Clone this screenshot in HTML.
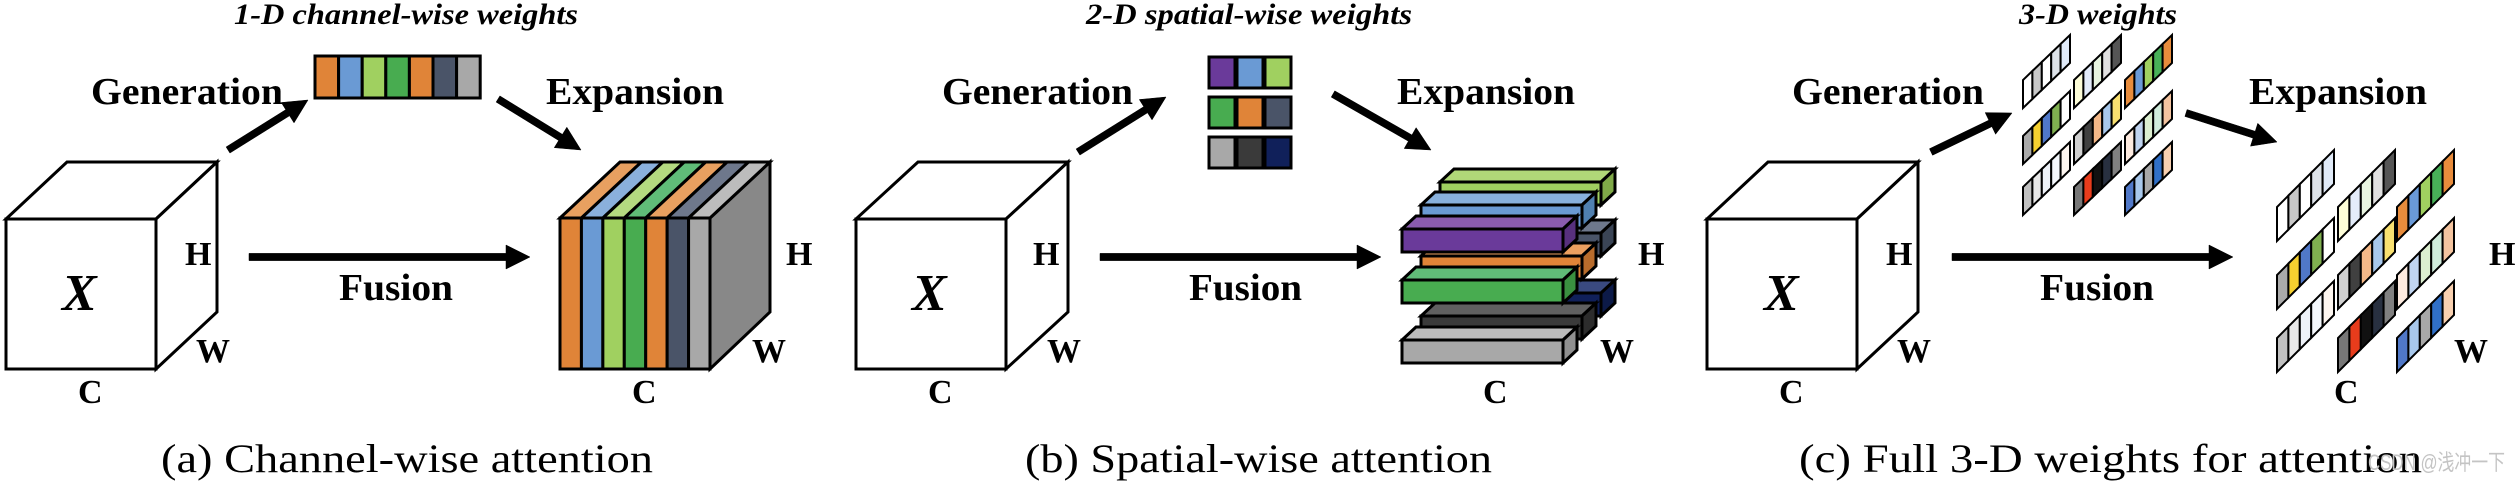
<!DOCTYPE html>
<html><head><meta charset="utf-8">
<style>
html,body{margin:0;padding:0;background:#fff;}
svg{display:block;}
text{font-family:"Liberation Serif",serif;fill:#000;}
.b{font-weight:bold;font-size:38px;}
.l{font-weight:bold;font-size:34px;}
.t{font-weight:bold;font-style:italic;font-size:30px;}
.cap{font-size:40px;}
</style></head>
<body>
<svg id="s" width="2518" height="484" viewBox="0 0 2518 484" xmlns="http://www.w3.org/2000/svg">
<g id="g"></g>
<!-- titles -->
<text class="t" x="234" y="24" textLength="344" lengthAdjust="spacingAndGlyphs">1-D channel-wise weights</text>
<text class="t" x="1086" y="24" textLength="326" lengthAdjust="spacingAndGlyphs">2-D spatial-wise weights</text>
<text class="t" x="2019" y="24" textLength="158" lengthAdjust="spacingAndGlyphs">3-D weights</text>
<!-- Generation / Expansion -->
<text class="b" x="91" y="104" textLength="192" lengthAdjust="spacingAndGlyphs">Generation</text>
<text class="b" x="546" y="104" textLength="178" lengthAdjust="spacingAndGlyphs">Expansion</text>
<text class="b" x="942" y="104" textLength="191" lengthAdjust="spacingAndGlyphs">Generation</text>
<text class="b" x="1397" y="104" textLength="178" lengthAdjust="spacingAndGlyphs">Expansion</text>
<text class="b" x="1792" y="104" textLength="192" lengthAdjust="spacingAndGlyphs">Generation</text>
<text class="b" x="2249" y="104" textLength="178" lengthAdjust="spacingAndGlyphs">Expansion</text>
<!-- Fusion -->
<text class="b" x="339" y="300" textLength="114" lengthAdjust="spacingAndGlyphs">Fusion</text>
<text class="b" x="1189" y="300" textLength="113" lengthAdjust="spacingAndGlyphs">Fusion</text>
<text class="b" x="2040" y="300" textLength="114" lengthAdjust="spacingAndGlyphs">Fusion</text>
<!-- X -->
<text x="62" y="310" style="font-weight:bold;font-style:italic;font-size:52px">X</text>
<text x="912" y="310" style="font-weight:bold;font-style:italic;font-size:52px">X</text>
<text x="1764" y="310" style="font-weight:bold;font-style:italic;font-size:52px">X</text>
<!-- H W C -->
<text class="l" x="185" y="265">H</text><text class="l" x="196" y="362">W</text><text class="l" x="78" y="403">C</text>
<text class="l" x="786" y="265">H</text><text class="l" x="752" y="362">W</text><text class="l" x="632" y="403">C</text>
<text class="l" x="1033" y="265">H</text><text class="l" x="1047" y="362">W</text><text class="l" x="928" y="403">C</text>
<text class="l" x="1638" y="265">H</text><text class="l" x="1600" y="362">W</text><text class="l" x="1483" y="403">C</text>
<text class="l" x="1886" y="265">H</text><text class="l" x="1897" y="362">W</text><text class="l" x="1779" y="403">C</text>
<text class="l" x="2489" y="265">H</text><text class="l" x="2454" y="362">W</text><text class="l" x="2334" y="403">C</text>
<!-- captions -->
<text class="cap" x="161" y="472" textLength="492" lengthAdjust="spacingAndGlyphs">(a) Channel-wise attention</text>
<text class="cap" x="1025" y="472" textLength="467" lengthAdjust="spacingAndGlyphs">(b) Spatial-wise attention</text>
<text class="cap" x="1799" y="472" textLength="623" lengthAdjust="spacingAndGlyphs">(c) Full 3-D weights for attention</text>
<text x="2368" y="470" style="font-family:'Liberation Sans','Noto Sans CJK SC',sans-serif;font-size:22px;fill:#c4c4c4" textLength="137" lengthAdjust="spacingAndGlyphs">CSDN @浅冲一下</text>
</svg>
<script>
var NS="http://www.w3.org/2000/svg",G=document.getElementById("g");
function el(t,a){var e=document.createElementNS(NS,t);for(var k in a)e.setAttribute(k,a[k]);G.appendChild(e);return e;}
function poly(pts,fill,sw){el("polygon",{points:pts.map(function(p){return p[0]+","+p[1]}).join(" "),fill:fill,stroke:"#000","stroke-width":sw||3,"stroke-linejoin":"miter"});}
function arrow(x1,y1,x2,y2){var dx=x2-x1,dy=y2-y1,L=Math.sqrt(dx*dx+dy*dy),ux=dx/L,uy=dy/L,nx=-uy,ny=ux,hl=24,hw=12,w=3.6;
var bx=x2-ux*hl,by=y2-uy*hl;
poly([[x1+nx*w,y1+ny*w],[bx+nx*w,by+ny*w],[bx+nx*hw,by+ny*hw],[x2,y2],[bx-nx*hw,by-ny*hw],[bx-nx*w,by-ny*w],[x1-nx*w,y1-ny*w]],"#000",0.5);}
function cube(x,y,w,h,dx,dy){poly([[x,y],[x+dx,y-dy],[x+w+dx,y-dy],[x+w,y]],"#fff");poly([[x+w,y],[x+w+dx,y-dy],[x+w+dx,y+h-dy],[x+w,y+h]],"#fff");poly([[x,y],[x+w,y],[x+w,y+h],[x,y+h]],"#fff");}
// input cubes
cube(6,219,150,150,61,57);cube(856,219,150,150,62,57);cube(1707,219,150,150,61,57);
// arrows
arrow(228,150,308,100);arrow(498,99,581,150);arrow(249,257,530,257);
arrow(1078,152,1166,97);arrow(1333,94,1431,150);arrow(1100,257,1381,257);
arrow(1931,152,2012,113);arrow(2186,113,2277,142);arrow(1952,257,2233,257);
// 1-D bar
var c1=["#e08438","#6a9ad4","#a0d060","#48ac50","#e08438","#4a5468","#a8a8a8"];
var t1=["#e8a060","#8ab0dc","#b4da80","#60bc78","#e8a060","#6e788c","#bcbcbc"];
for(var i=0;i<7;i++)poly([[315+i*23.6,56],[338.6+i*23.6,56],[338.6+i*23.6,98],[315+i*23.6,98]],c1[i]);
// channel cube
var X0=560,W=150/7;
poly([[710,218],[770,162],[770,312],[710,369]],"#888");
for(i=0;i<7;i++){var a=X0+i*W;poly([[a,218],[a+60,162],[a+W+60,162],[a+W,218]],t1[i]);}
for(i=0;i<7;i++){var a=X0+i*W;poly([[a,218],[a+W,218],[a+W,369],[a,369]],c1[i]);}
// 2-D grid
var g2=[["#6a3a9a","#6a9ad4","#a0d060"],["#48ac50","#e08438","#4a5468"],["#a8a8a8","#3a3a3a","#10205a"]];
var cx=[1209,1237,1265],ry=[57,97,137];
for(var r=0;r<3;r++)for(var c=0;c<3;c++)poly([[cx[c],ry[r]],[cx[c]+26,ry[r]],[cx[c]+26,ry[r]+31],[cx[c],ry[r]+31]],g2[r][c]);
// spatial boxes
function box(x,y,f,t,s){var w=161,h=23,dx=14,dy=13;poly([[x,y],[x+dx,y-dy],[x+w+dx,y-dy],[x+w,y]],t);poly([[x+w,y],[x+w+dx,y-dy],[x+w+dx,y+h-dy],[x+w,y+h]],s);poly([[x,y],[x+w,y],[x+w,y+h],[x,y+h]],f);}
var B=[
[[1440,182,"#a0d060","#b0d878","#80aa48"],[1440,233,"#4a5468","#6e788c","#3a4455"],[1440,293,"#10205a","#3a4a80","#0c1a48"]],
[[1421,205,"#6a9ad4","#88b0dc","#5080b0"],[1421,256,"#e08438","#eca060","#b86c2c"],[1421,316,"#3a3a3a","#606060","#2c2c2c"]],
[[1402,229,"#6a3a9a","#8a5cae","#58307e"],[1402,280,"#48ac50","#60bc78","#3a9040"],[1402,340,"#a8a8a8","#bcbcbc","#909090"]]];
for(var L=0;L<3;L++)for(r=0;r<3;r++){var b=B[L][r];box(b[0],b[1],b[2],b[3],b[4]);}
// 3-D strips
var S=[
[["#fff","#c8c8c8","#fff","#dde2e8","#e0eaf8"],["#fdfdd8","#e4ecfa","#e8f4e0","#e0e0e0","#555"],["#e88c3c","#6a9ad8","#a0d060","#48b058","#e88c3c"]],
[["#aaa","#f5d030","#5078c8","#80b050","#fff"],["#d0d0d0","#404040","#f4b888","#a8c8ec","#f8e070"],["#fdebe0","#c0d4f0","#dcefd0","#d0ecdc","#f4c4a0"]],
[["#c0c0c0","#e8e8e8","#eef2f8","#f4f8fc","#fdf6f0"],["#777","#e83c1c","#111","#283040","#808080"],["#5078c8","#a8c8ec","#a8a8a8","#3070c8","#f8d0b0"]]];
function strip(x0,yb,w,v,rise,cols){var n=cols.length;for(var i=0;i<n;i++){var xa=x0+i*w/n,xb=x0+(i+1)*w/n,ya=yb-(xa-x0)*rise/w,yb2=yb-(xb-x0)*rise/w;poly([[xa,ya],[xa,ya-v],[xb,yb2-v],[xb,yb2]],cols[i],2);}}
var tx=[2023,2074,2125],ty=[108,164,215];
var ex=[2277,2338,2397],ey=[241,309,372];
for(r=0;r<3;r++)for(c=0;c<3;c++){strip(tx[c],ty[r],47,28,45,S[r][c]);strip(ex[c],ey[r],57,34,57,S[r][c]);}
</script>
</body></html>
